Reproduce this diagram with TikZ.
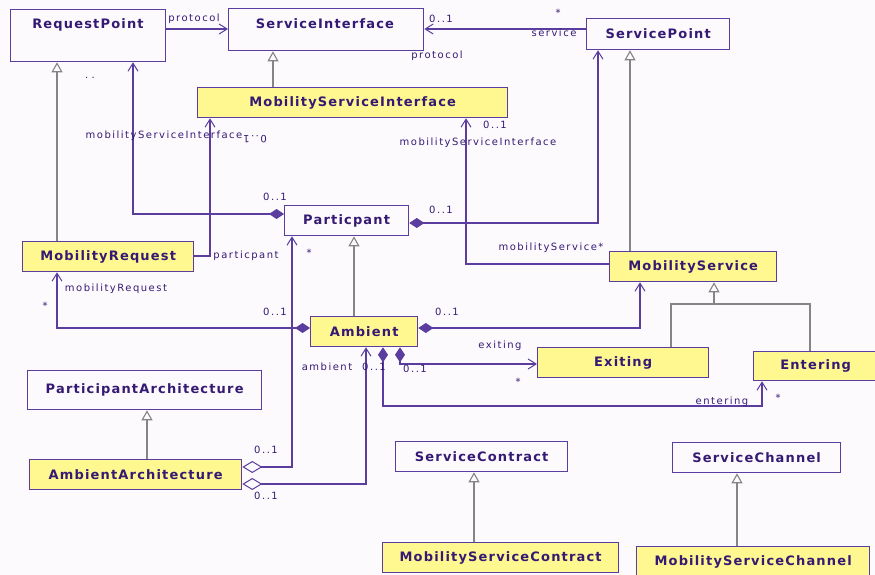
\documentclass[tikz,border=0pt]{standalone}
\usepackage{fontspec}
\setmainfont{DejaVu Sans}
\newfontfamily\ttlfont[LetterSpace=9]{DejaVu Sans}
\newfontfamily\lblfont[LetterSpace=15]{DejaVu Sans}
\usetikzlibrary{arrows.meta}
\definecolor{bgc}{HTML}{FDFAFD}
\definecolor{txtc}{HTML}{351A74}
\definecolor{boxc}{HTML}{5A3D9E}
\definecolor{linec}{HTML}{5A3D9E}
\definecolor{genc}{HTML}{858585}
\definecolor{yelc}{HTML}{FFF78F}
\begin{document}
\begin{tikzpicture}[x=1pt,y=-1pt,
  box/.style={draw=boxc, line width=1.3pt, inner sep=0pt, anchor=north west, text=txtc,
    font=\ttlfont\bfseries\fontsize{13}{15}\selectfont},
  yel/.style={box, fill=yelc},
  wht/.style={box, fill=bgc},
  ttl/.style={text=txtc, inner sep=0pt, font=\ttlfont\bfseries\fontsize{13}{15}\selectfont},
  lbl/.style={text=txtc, inner sep=0pt, font=\lblfont\fontsize{10}{12}\selectfont},
  assoc/.style={draw=linec, line width=1.1pt},
  nav/.style={-{Straight Barb[length=8pt, width=10pt, line width=1pt]}},
  fdnav/.style={{Diamond[length=15pt, width=10pt, fill=linec]}-{Straight Barb[length=8pt, width=10pt, line width=1pt]}},
  hdnav/.style={{Diamond[open, length=20pt, width=12pt, fill=bgc, line width=1pt]}-{Straight Barb[length=8pt, width=10pt, line width=1pt]}},
  gline/.style={draw=genc, line width=1.4pt},
  gen/.style={gline, -{Triangle[open, length=10pt, width=11pt, fill=bgc, line width=1.1pt]}}
]
\useasboundingbox (0,0) rectangle (875,575);
\fill[bgc] (0,0) rectangle (875,575);

% classes
\node[wht, minimum width=155pt, minimum height=52pt] (rp) at (10,9) {};
\node[ttl] (rpt) at (88,25) {RequestPoint};
\node[wht, minimum width=195pt, minimum height=42pt] (si) at (228,8) {};
\node[ttl] (sit) at (325,24) {ServiceInterface};
\node[wht, minimum width=143pt, minimum height=31pt] (sp) at (586,18) {ServicePoint};
\node[yel, minimum width=310pt, minimum height=30pt] (msi) at (197,87) {MobilityServiceInterface};
\node[wht, minimum width=124pt, minimum height=30pt] (pa) at (284,205) {Particpant};
\node[yel, minimum width=171pt, minimum height=30pt] (mr) at (22,241) {MobilityRequest};
\node[yel, minimum width=107pt, minimum height=30pt] (am) at (310,316) {Ambient};
\node[yel, minimum width=167pt, minimum height=30pt] (ms) at (609,251) {MobilityService};
\node[yel, minimum width=171pt, minimum height=30pt] (ex) at (537,347) {Exiting};
\node[yel, minimum width=124pt, minimum height=29pt] (en) at (753,351) {Entering};
\node[wht, minimum width=234pt, minimum height=39pt] (pA) at (27,370) {ParticipantArchitecture};
\node[yel, minimum width=212pt, minimum height=30pt] (aA) at (29,459) {AmbientArchitecture};
\node[wht, minimum width=172pt, minimum height=30pt] (sc) at (395,441) {ServiceContract};
\node[wht, minimum width=168pt, minimum height=30pt] (sch) at (672,442) {ServiceChannel};
\node[yel, minimum width=236pt, minimum height=30pt] (msc) at (382,542) {MobilityServiceContract};
\node[yel, minimum width=233pt, minimum height=31pt] (msch) at (636,546) {MobilityServiceChannel};

% generalizations
\draw[gen] (msi.north -| 273,0) -- (si.south -| 273,0);
\draw[gen] (mr.north -| 57,0) -- (rp.south -| 57,0);
\draw[gen] (ms.north -| 630,0) -- (sp.south -| 630,0);
\draw[gen] (am.north -| 354,0) -- (pa.south -| 354,0);
\draw[gen] (aA.north -| 147,0) -- (pA.south -| 147,0);
\draw[gen] (msc.north -| 474,0) -- (sc.south -| 474,0);
\draw[gen] (msch.north -| 737,0) -- (sch.south -| 737,0);
\draw[gline] (ex.north -| 671,0) -- (671,304) -- (810,304) -- (en.north -| 810,0);
\coordinate (gj) at (714,304);
\draw[gen, line width=2.2pt] (gj) -- (ms.south -| 714,0);

% associations
\draw[assoc, nav] (rp.east |- 0,29) -- (si.west |- 0,29);
\draw[assoc, nav] (sp.west |- 0,29) -- (si.east |- 0,29);
\draw[assoc, fdnav] (pa.west |- 0,214) -- (133,214) -- (rp.south -| 133,0);
\draw[assoc, nav] (mr.east |- 0,256) -- (210,256) -- (msi.south -| 210,0);
\draw[assoc, fdnav] (pa.east |- 0,223) -- (598,223) -- (sp.south -| 598,0);
\draw[assoc, nav] (ms.west |- 0,264) -- (466,264) -- (msi.south -| 466,0);
\draw[assoc, fdnav] (am.west |- 0,328) -- (57,328) -- (mr.south -| 57,0);
\draw[assoc, fdnav] (am.east |- 0,328) -- (640,328) -- (ms.south -| 640,0);
\draw[assoc, fdnav] (am.south -| 400,0) -- (400,364) -- (ex.west |- 0,364);
\draw[assoc, fdnav] (am.south -| 383,0) -- (383,406) -- (762,406) -- (en.south -| 762,0);
\draw[assoc, hdnav] (aA.east |- 0,467) -- (292,467) -- (pa.south -| 292,0);
\draw[assoc, hdnav] (aA.east |- 0,484) -- (366,484) -- (am.south -| 366,0);

% labels
\node[lbl] (l1) at (194,19) {protocol};
\node[lbl] (l2) at (441,19) {0..1};
\node[lbl] (l3) at (558,13) {*};
\node[lbl] (l4) at (554,33) {service};
\node[lbl] (l5) at (437,56) {protocol};
\node[lbl] (l6) at (90,78) {.\,\,.};
\node[lbl] (l7) at (164,136) {mobilityServiceInterface};
\node[lbl, rotate=180] (l8) at (255,139) {0..1};
\node[lbl] (l9) at (275,197) {0..1};
\node[lbl] (l10) at (246,256) {particpant};
\node[lbl] (l11) at (441,210) {0..1};
\node[lbl] (l12) at (495,125) {0..1};
\node[lbl] (l13) at (478,143) {mobilityServiceInterface};
\node[lbl] (l14) at (551,248) {mobilityService*};
\node[lbl] (l15) at (309,253) {*};
\node[lbl] (l16) at (116,289) {mobilityRequest};
\node[lbl] (l17) at (45,306) {*};
\node[lbl] (l18) at (275,312) {0..1};
\node[lbl] (l19) at (447,312) {0..1};
\node[lbl] (l20) at (500,346) {exiting};
\node[lbl] (l21) at (518,382) {*};
\node[lbl] (l22) at (327,367) {ambient};
\node[lbl] (l23) at (374,367) {0..1};
\node[lbl] (l24) at (415,369) {0..1};
\node[lbl] (l25) at (722,402) {entering};
\node[lbl] (l26) at (778,398) {*};
\node[lbl] (l27) at (266,450) {0..1};
\node[lbl] (l28) at (266,496) {0..1};
\end{tikzpicture}
\end{document}
